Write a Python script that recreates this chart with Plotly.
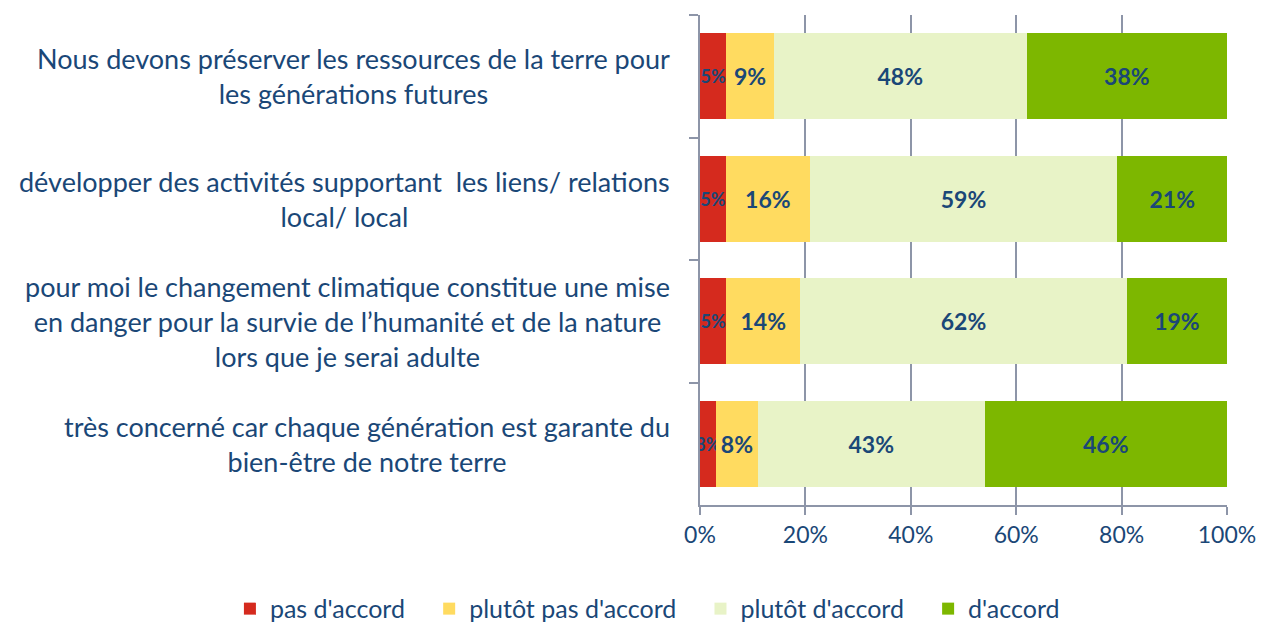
import plotly.graph_objects as go

# Survey statements (top to bottom) and answer shares in percent
statements = [
    "Nous devons préserver les ressources de la terre pour<br>les générations futures",
    "développer des activités supportant  les liens/ relations<br>local/ local",
    "pour moi le changement climatique constitue une mise<br>en danger pour la survie de l’humanité et de la nature<br>lors que je serai adulte",
    "très concerné car chaque génération est garante du<br>bien-être de notre terre",
]
categories = ["Q1", "Q2", "Q3", "Q4"]

series_names = ["pas d'accord", "plutôt pas d'accord", "plutôt d'accord", "d'accord"]
pas_accord = [5, 5, 5, 3]
plutot_pas_accord = [9, 16, 14, 8]
plutot_accord = [48, 59, 62, 43]
accord = [38, 21, 19, 46]

x_ticks = [0, 20, 40, 60, 80, 100]

colors = ["#D52A1E", "#FFDB60", "#E8F3C7", "#7DB700"]
text_blue = "#1A4777"
grid_col = "#8D95A8"
font_family = "Lato, 'Open Sans', sans-serif"

# non-breaking spaces widen the gap between legend entries
legend_pad = "\u00a0" * 3

fig = go.Figure()
for name, vals, col in zip(series_names,
                           [pas_accord, plutot_pas_accord, plutot_accord, accord],
                           colors):
    small = name == "pas d'accord"
    fig.add_trace(go.Bar(
        y=categories, x=vals, name=name + legend_pad, orientation="h",
        marker=dict(color=col, line=dict(width=0)),
        text=[f"{v}%" for v in vals],
        textposition="inside", insidetextanchor="middle",
        constraintext="none", textangle=0,
        textfont=dict(family=font_family, size=18 if small else 23,
                      color=text_blue, weight="bold"),
        hoverinfo="skip",
    ))

# Statement labels left of the bars, centred line by line
for cat, label in zip(categories, statements):
    fig.add_annotation(
        x=0, xref="paper", xshift=-28, xanchor="right",
        y=cat, yref="y", yanchor="middle",
        text=label, align="center", showarrow=False,
        font=dict(family=font_family, size=27, color=text_blue),
    )

fig.update_layout(
    width=1261, height=622,
    margin=dict(l=700, r=34, t=15, b=117, autoexpand=False),
    barmode="stack", barnorm="percent", bargap=0.3,
    plot_bgcolor="white", paper_bgcolor="white",
    font=dict(family=font_family, color=text_blue),
    legend=dict(
        orientation="h", xref="paper", yref="paper",
        x=-0.892, xanchor="left", y=-0.212, yanchor="middle",
        font=dict(family=font_family, size=25, color=text_blue),
        traceorder="normal", itemclick=False,
        tracegroupgap=0,
    ),
    xaxis=dict(
        range=[0, 100], tickvals=x_ticks,
        ticktext=[f"{t}%" for t in x_ticks],
        showgrid=True, gridcolor=grid_col, gridwidth=2,
        showline=True, linecolor=grid_col, linewidth=2,
        ticks="outside", ticklen=8, tickcolor=grid_col, tickwidth=2,
        tickfont=dict(family=font_family, size=23, color=text_blue),
        zeroline=False, fixedrange=True, automargin=False,
    ),
    yaxis=dict(
        categoryorder="array", categoryarray=categories,
        autorange="reversed",
        showticklabels=False, tickson="boundaries",
        ticks="outside", ticklen=9, tickcolor=grid_col, tickwidth=2,
        showline=True, linecolor=grid_col, linewidth=2,
        showgrid=False, fixedrange=True, automargin=False,
    ),
)

fig.write_html("out.html")
